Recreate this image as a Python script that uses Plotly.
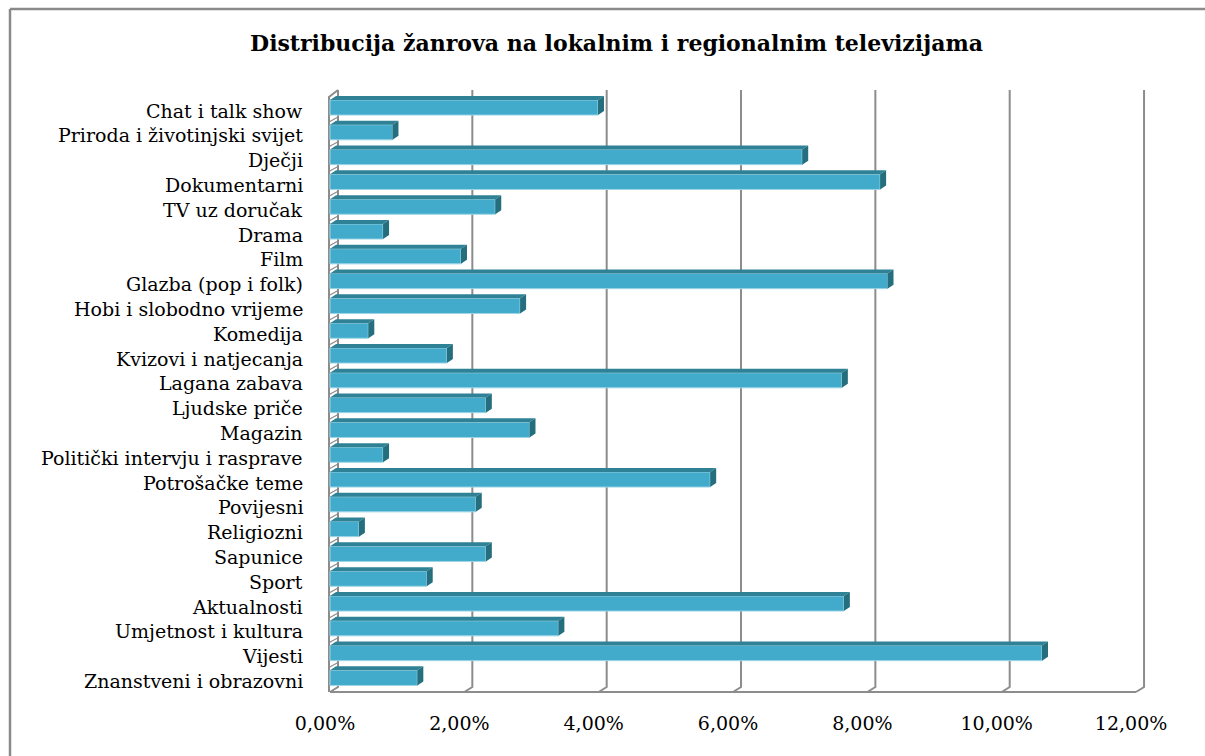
import plotly.graph_objects as go

categories = [
    "Chat i talk show", "Priroda i životinjski svijet", "Dječji", "Dokumentarni",
    "TV uz doručak", "Drama", "Film", "Glazba (pop i folk)", "Hobi i slobodno vrijeme",
    "Komedija", "Kvizovi i natjecanja", "Lagana zabava", "Ljudske priče", "Magazin",
    "Politički intervju i rasprave", "Potrošačke teme", "Povijesni", "Religiozni",
    "Sapunice", "Sport", "Aktualnosti", "Umjetnost i kultura", "Vijesti",
    "Znanstveni i obrazovni",
]
values = [
    3.99, 0.93, 7.03, 8.19, 2.46, 0.79, 1.95, 8.30, 2.83, 0.57, 1.74, 7.62,
    2.32, 2.97, 0.79, 5.66, 2.17, 0.43, 2.32, 1.44, 7.65, 3.40, 10.60, 1.30,
]
tick_vals = [0, 2, 4, 6, 8, 10, 12]
tick_text = [f"{v:.2f}".replace(".", ",") + "%" for v in tick_vals]

title = "Distribucija žanrova na lokalnim i regionalnim televizijama"

W, H = 1205, 756
# geometry in screen pixels
XPX0, XS = 330.0, 67.17      # pixel of value 0, pixels per 1 %
YPX0, YS = 107.5, 24.8       # pixel of first category, pixels per category
PL, PR, PT, PB = 320, 1160, 85, 695


def xd(px):
    return (px - XPX0) / XS


def yd(px):
    return (px - YPX0) / YS


def ddx(px):
    return px / XS


def ddy(px):
    return px / YS


FACE = "#42AACB"
TOP = "#2F8296"
SIDE = "#246E7E"
GRID = "#8C8C8C"
SERIF = "DejaVu Serif"

n = len(categories)
ypos = list(range(n))
bw = 0.61
depx, depy = ddx(6), ddy(4)

fig = go.Figure()

fig.add_trace(go.Bar(
    x=values, y=ypos, orientation="h", width=bw,
    marker=dict(color=FACE, line=dict(color="#9ED6E6", width=1)),
    hoverinfo="x+y", showlegend=False,
))

tx, ty, sx, sy = [], [], [], []
for yi, v in zip(ypos, values):
    top = yi - bw / 2
    bot = yi + bw / 2
    tx += [0, v, v + depx, depx, 0, None]
    ty += [top, top, top - depy, top - depy, top, None]
    sx += [v, v + depx, v + depx, v, v, None]
    sy += [top, top - depy, bot - depy, bot, top, None]
fig.add_trace(go.Scatter(x=tx, y=ty, mode="lines", fill="toself", fillcolor=TOP,
                         line=dict(width=0, color=TOP), hoverinfo="skip", showlegend=False))
fig.add_trace(go.Scatter(x=sx, y=sy, mode="lines", fill="toself", fillcolor=SIDE,
                         line=dict(width=0, color=SIDE), hoverinfo="skip", showlegend=False))

shapes = []
back_top, back_bot, front_bot = yd(90), yd(687), yd(692)
wall_dx = ddx(8)
for v in tick_vals:
    xb = v + wall_dx
    shapes.append(dict(type="path", xref="x", yref="y", layer="below",
                       path=f"M {xb},{back_top} L {xb},{back_bot} L {v},{front_bot}",
                       line=dict(color=GRID, width=2)))
shapes.append(dict(type="line", xref="x", yref="y", layer="below",
                   x0=0, x1=tick_vals[-1], y0=front_bot, y1=front_bot,
                   line=dict(color=GRID, width=2)))
shapes.append(dict(type="path", xref="x", yref="y", layer="below",
                   path=f"M {wall_dx},{back_top} L {ddx(-1)},{yd(97)} L {ddx(-1)},{front_bot}",
                   line=dict(color=GRID, width=2)))
for i in range(n - 1):
    b = i + 0.5
    shapes.append(dict(type="line", xref="x", yref="y", layer="below",
                       x0=ddx(-1), y0=b + ddy(2), x1=wall_dx, y1=b - ddy(3),
                       line=dict(color=GRID, width=1.2)))


# outer chart border (top and left sides visible)
def px_(x):
    return (x - PL) / (PR - PL)


def py_(y):
    return (PB - y) / (PB - PT)


shapes.append(dict(type="line", xref="paper", yref="paper", layer="below",
                   x0=px_(10), x1=px_(1210), y0=py_(9), y1=py_(9),
                   line=dict(color="#8A8A8A", width=2.5)))
shapes.append(dict(type="line", xref="paper", yref="paper", layer="below",
                   x0=px_(10), x1=px_(10), y0=py_(9), y1=py_(760),
                   line=dict(color="#8A8A8A", width=2.5)))

annotations = []
for yi, c in zip(ypos, categories):
    annotations.append(dict(x=0, y=yi, xref="x", yref="y", text=c, showarrow=False,
                            xanchor="right", yanchor="middle", xshift=-25, yshift=-3,
                            font=dict(family=SERIF, size=19, color="#000000")))

fig.update_layout(
    width=W, height=H,
    margin=dict(l=PL, r=W - PR, t=PT, b=H - PB, autoexpand=False),
    paper_bgcolor="white", plot_bgcolor="white",
    hovermode=False,
    title=dict(text=f"<b>{title}</b>", x=616.5 / W, xanchor="center",
               y=1 - 43 / H, yanchor="middle",
               font=dict(family=SERIF, size=22, color="#000000")),
    xaxis=dict(range=[xd(PL), xd(PR)], tickvals=tick_vals, ticktext=tick_text,
               showgrid=False, zeroline=False, showline=False,
               ticks="", ticklabelstandoff=15, ticklabelshift=-5,
               tickfont=dict(family=SERIF, size=19, color="#000000")),
    yaxis=dict(range=[yd(PB), yd(PT)], showticklabels=False, showgrid=False,
               zeroline=False, showline=False, ticks=""),
    shapes=shapes, annotations=annotations, bargap=0.4,
)

fig.write_html(
    "out.html",
    config={"displayModeBar": False, "staticPlot": True},
    post_script="document.body.style.margin='0';document.body.style.overflow='hidden';",
)
